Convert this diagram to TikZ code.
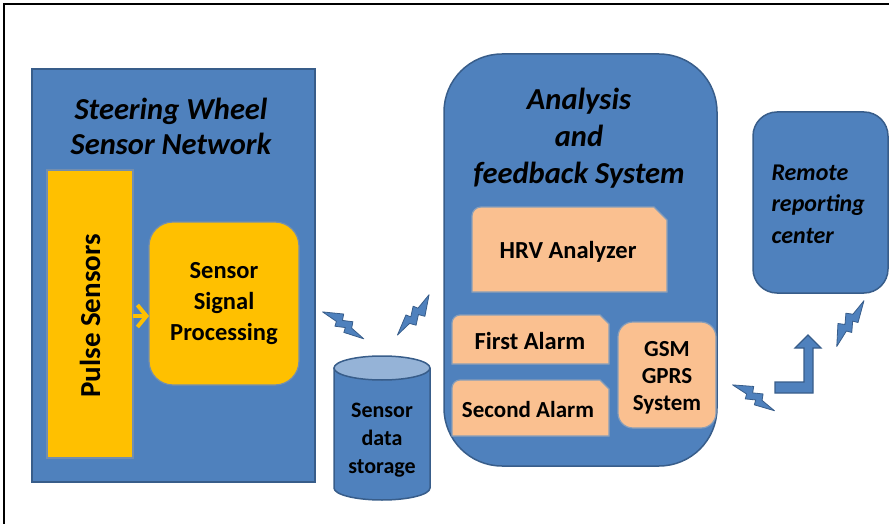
\documentclass[tikz,border=0pt]{standalone}
\usepackage{fontspec}
\setmainfont{Carlito}
\usetikzlibrary{arrows.meta}
\definecolor{boxblue}{HTML}{4F81BD}
\definecolor{edgeblue}{HTML}{385D8A}
\definecolor{gold}{HTML}{FFC000}
\definecolor{peach}{HTML}{FAC090}
\definecolor{capblue}{HTML}{95B3D7}

\tikzset{
  base/.style={inner sep=0pt, outer sep=0pt},
  bluebox/.style={base, fill=boxblue, draw=edgeblue, line width=1.5pt},
  goldbox/.style={base, fill=gold, draw=edgeblue!70, line width=1.2pt},
  holder/.style={base, draw=none, fill=none},
  peachshape/.style={fill=peach, draw=edgeblue!60, line width=1.2pt},
  bigtitle/.style={font=\fontsize{30.5}{35}\selectfont\bfseries\itshape, align=center},
  boxtext/.style={font=\fontsize{24.5}{31}\selectfont\bfseries, align=center},
  smalltext/.style={font=\fontsize{22}{28}\selectfont\bfseries, align=center},
  boltshape/.style={fill=boxblue, draw=edgeblue, line width=0.8pt, line join=round},
  bolt/.pic={
    \path[boltshape] (0,0.02) -- (0.40,0.15) -- (0.44,0.05) -- (0.64,0.11)
      -- (0.68,0.01) -- (1,-0.05) -- (0.58,-0.11) -- (0.56,-0.03)
      -- (0.36,-0.09) -- (0.34,-0.01) -- cycle;
  }
}

\begin{document}
\begin{tikzpicture}[x=1pt,y=-1pt]
\useasboundingbox (0,0) rectangle (889,524);

% page frame (top and left edges)
\draw[line width=1.3pt] (4,524) -- (4,4) -- (889,4);

% steering wheel sensor network
\node[bluebox, minimum width=283, minimum height=413, anchor=north west] (swsn) at (32,69) {};
\node[bigtitle] (swsntitle) at (171,126) {Steering Wheel\\Sensor Network};

\node[goldbox, minimum width=86, minimum height=288, anchor=north west] (pulse) at (47,170) {};
\node[font=\fontsize{29}{32}\selectfont\bfseries, rotate=90] (pulsetext) at ([yshift=-2pt]pulse.center) {Pulse Sensors};

\node[goldbox, rounded corners=24pt, minimum width=150, minimum height=163, anchor=north west] (ssp) at (149,222) {};
\node[boxtext] (ssptext) at (224,304) {Sensor\\Signal\\Processing};

\draw[gold, line width=4pt, -{Straight Barb[length=9pt,width=22pt,line width=4pt]}]
  ([yshift=-2pt]pulse.east) -- ([yshift=-2pt]pulse.east -| ssp.west);

% sensor data storage
\node[holder, minimum width=96, minimum height=144, anchor=north west] (store) at (334,356) {};
\path[fill=boxblue, draw=edgeblue, line width=1.5pt]
  ([yshift=-12pt]store.north west) -- ([yshift=12pt]store.south west)
  arc[start angle=180, end angle=360, x radius=48pt, y radius=12pt]
  -- ([yshift=-12pt]store.north east);
\draw[fill=capblue, draw=edgeblue, line width=1.5pt]
  ([yshift=-12pt]store.north) ellipse[x radius=48pt, y radius=12pt];
\node[smalltext] (storetext) at (382,440) {Sensor\\data\\storage};

% analysis and feedback system
\node[bluebox, rounded corners=58pt, minimum width=273, minimum height=412, anchor=north west] (afs) at (444,54) {};
\node[bigtitle, font=\fontsize{30.5}{37}\selectfont\bfseries\itshape] (afstitle) at (579,138) {Analysis\\and\\feedback System};

\node[holder, minimum width=195, minimum height=85, anchor=north west] (hrv) at (472,207) {};
\path[peachshape] (hrv.south west) [rounded corners=9pt] -- (hrv.north west) [sharp corners]
  -- ([xshift=-13pt]hrv.north east) -- ([yshift=-13pt]hrv.north east) -- (hrv.south east) -- cycle;
\node[boxtext] (hrvtext) at (568,252) {HRV Analyzer};

\node[holder, minimum width=157, minimum height=49, anchor=north west] (alarm1) at (452,315) {};
\path[peachshape] (alarm1.south west) [rounded corners=8pt] -- (alarm1.north west) [sharp corners]
  -- ([xshift=-9pt]alarm1.north east) -- ([yshift=-9pt]alarm1.north east) -- (alarm1.south east) -- cycle;
\node[boxtext] (alarm1text) at (530,341) {First Alarm};

\node[holder, minimum width=157, minimum height=56, anchor=north west] (alarm2) at (452,380) {};
\path[peachshape] (alarm2.south west) [rounded corners=8pt] -- (alarm2.north west) [sharp corners]
  -- ([xshift=-9pt]alarm2.north east) -- ([yshift=-9pt]alarm2.north east) -- (alarm2.south east) -- cycle;
\node[font=\fontsize{23}{26}\selectfont\bfseries] (alarm2text) at (528,410) {Second Alarm};

\node[base, peachshape, rounded corners=15pt, minimum width=98, minimum height=106, anchor=north west] (gsm) at (618,322) {};
\node[font=\fontsize{23}{27}\selectfont\bfseries, align=center] (gsmtext) at (667,378) {GSM\\GPRS\\System};

% remote reporting center
\node[bluebox, rounded corners=24pt, minimum width=135, minimum height=181, anchor=north west] (remote) at (753,112) {};
\node[font=\fontsize{24}{31.5}\selectfont\bfseries\itshape, align=left, anchor=west] (remotetext) at (768,204) {Remote\\reporting\\center};

% wireless links
\path (322,313) pic[rotate=-28.1, x=49pt, y=62pt] {bolt};
\path (428,294) pic[rotate=-123.1, x=51pt, y=64pt] {bolt};
\path (732,386) pic[rotate=-26.6, x=49pt, y=62pt] {bolt};
\path (838,347) pic[rotate=64.4, x=53pt, y=68pt] {bolt};

% bent uplink arrow
\path[fill=boxblue, draw=edgeblue, line width=1.2pt]
  (775,382) -- (804,382) -- (804,348) -- (795,348) -- (808,335) -- (821,348)
  -- (813,348) -- (813,393) -- (775,393) -- cycle;
\end{tikzpicture}
\end{document}
